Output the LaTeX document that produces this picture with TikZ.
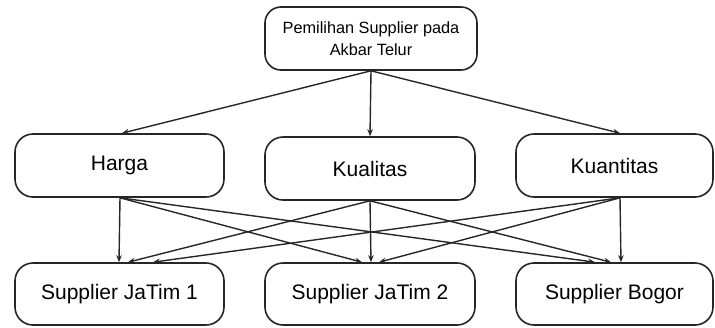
\documentclass[tikz,border=0pt]{standalone}
\usepackage{fontspec}
\setmainfont{Liberation Sans}
\usetikzlibrary{arrows.meta}
\begin{document}
\begin{tikzpicture}[x=1pt,y=-1pt,
  box/.style={draw=black!85, line width=1.6pt, rounded corners=18pt, inner sep=0pt, font=\fontsize{21}{24}\selectfont},
  topbox/.style={draw=black!85, line width=1.6pt, rounded corners=16pt, inner sep=0pt, align=center, font=\fontsize{16.3}{22}\selectfont},
  arr/.style={draw=black!85, line width=1.4pt, -{Stealth[length=7pt,width=5.5pt]}}]
\useasboundingbox (0,0) rectangle (715,327);
\node[topbox, minimum width=212pt, minimum height=63pt] (top) at (371,38.5) {Pemilihan Supplier pada\\Akbar Telur};
\node[box, minimum width=209pt, minimum height=63pt] (harga) at (119.5,165.5) {Harga};
\node[box, minimum width=210pt, minimum height=63pt] (kual) at (370,168.5) {Kualitas};
\node[box, minimum width=197pt, minimum height=63pt] (kuan) at (614.5,165.5) {Kuantitas};
\node[box, minimum width=209pt, minimum height=62pt] (s1) at (119.5,294) {Supplier JaTim 1};
\node[box, minimum width=210pt, minimum height=62pt] (s2) at (370,294) {Supplier JaTim 2};
\node[box, minimum width=197pt, minimum height=62pt] (s3) at (614.5,294) {Supplier Bogor};
% top level
\draw[arr] (top.south) -- ([xshift=2.5pt]harga.north);
\draw[arr] (top.south) -- (kual.north);
\draw[arr] (top.south) -- ([xshift=5.5pt]kuan.north);
% from Harga
\draw[arr] ([xshift=0.5pt]harga.south) -- ([xshift=-0.5pt]s1.north);
\draw[arr] ([xshift=0.5pt]harga.south) -- ([xshift=-8pt]s2.north);
\draw[arr] ([xshift=0.5pt]harga.south) -- ([xshift=-19.5pt]s3.north);
% from Kualitas
\draw[arr] (kual.south) -- ([xshift=8.5pt]s1.north);
\draw[arr] (kual.south) -- ([xshift=1pt]s2.north);
\draw[arr] (kual.south) -- ([xshift=-3.5pt]s3.north);
% from Kuantitas
\draw[arr] ([xshift=5.5pt]kuan.south) -- ([xshift=33.5pt]s1.north);
\draw[arr] ([xshift=5.5pt]kuan.south) -- ([xshift=9pt]s2.north);
\draw[arr] ([xshift=5.5pt]kuan.south) -- ([xshift=6.5pt]s3.north);
\end{tikzpicture}
\end{document}
